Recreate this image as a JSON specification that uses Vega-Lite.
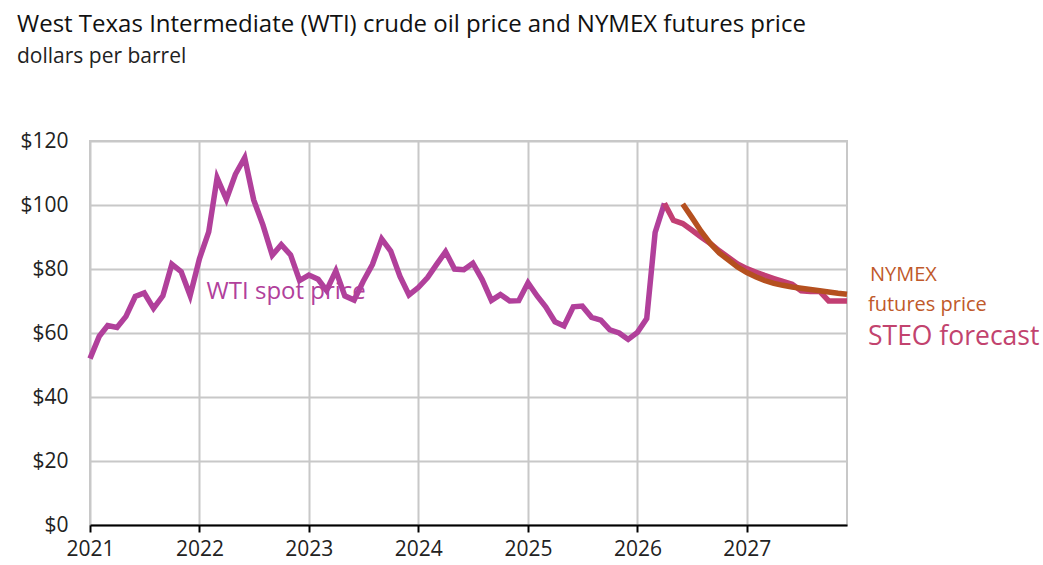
{
  "$schema": "https://vega.github.io/schema/vega-lite/v6.json",
  "width": 757,
  "height": 384,
  "autosize": {"type": "none"},
  "padding": {"left": 90, "top": 141, "right": 196, "bottom": 40},
  "background": "white",
  "title": {
    "text": "West Texas Intermediate (WTI) crude oil price and NYMEX futures price",
    "subtitle": "dollars per barrel",
    "anchor": "start",
    "frame": "group",
    "dx": -73,
    "offset": 63,
    "font": "Open Sans",
    "fontSize": 24,
    "fontWeight": "normal",
    "color": "#111111",
    "subtitleFont": "Open Sans",
    "subtitleFontSize": 21,
    "subtitleColor": "#222222",
    "subtitlePadding": 9
  },
  "config": {
    "view": {"stroke": "#c8c8c8", "strokeWidth": 2},
    "axis": {
      "labelFont": "Open Sans",
      "labelFontSize": 21,
      "labelColor": "#222222",
      "gridColor": "#c8c8c8",
      "gridWidth": 2,
      "title": null
    }
  },
  "datasets": {
    "prices": [
      {"date": "2021-01-01", "price": 52.0, "series": "WTI"},
      {"date": "2021-02-01", "price": 59.0, "series": "WTI"},
      {"date": "2021-03-01", "price": 62.3, "series": "WTI"},
      {"date": "2021-04-01", "price": 61.7, "series": "WTI"},
      {"date": "2021-05-01", "price": 65.2, "series": "WTI"},
      {"date": "2021-06-01", "price": 71.4, "series": "WTI"},
      {"date": "2021-07-01", "price": 72.5, "series": "WTI"},
      {"date": "2021-08-01", "price": 67.7, "series": "WTI"},
      {"date": "2021-09-01", "price": 71.6, "series": "WTI"},
      {"date": "2021-10-01", "price": 81.5, "series": "WTI"},
      {"date": "2021-11-01", "price": 79.2, "series": "WTI"},
      {"date": "2021-12-01", "price": 71.7, "series": "WTI"},
      {"date": "2022-01-01", "price": 83.2, "series": "WTI"},
      {"date": "2022-02-01", "price": 91.6, "series": "WTI"},
      {"date": "2022-03-01", "price": 108.5, "series": "WTI"},
      {"date": "2022-04-01", "price": 101.8, "series": "WTI"},
      {"date": "2022-05-01", "price": 109.6, "series": "WTI"},
      {"date": "2022-06-01", "price": 114.8, "series": "WTI"},
      {"date": "2022-07-01", "price": 101.6, "series": "WTI"},
      {"date": "2022-08-01", "price": 93.7, "series": "WTI"},
      {"date": "2022-09-01", "price": 84.3, "series": "WTI"},
      {"date": "2022-10-01", "price": 87.6, "series": "WTI"},
      {"date": "2022-11-01", "price": 84.4, "series": "WTI"},
      {"date": "2022-12-01", "price": 76.4, "series": "WTI"},
      {"date": "2023-01-01", "price": 78.1, "series": "WTI"},
      {"date": "2023-02-01", "price": 76.8, "series": "WTI"},
      {"date": "2023-03-01", "price": 73.3, "series": "WTI"},
      {"date": "2023-04-01", "price": 79.4, "series": "WTI"},
      {"date": "2023-05-01", "price": 71.6, "series": "WTI"},
      {"date": "2023-06-01", "price": 70.3, "series": "WTI"},
      {"date": "2023-07-01", "price": 76.1, "series": "WTI"},
      {"date": "2023-08-01", "price": 81.4, "series": "WTI"},
      {"date": "2023-09-01", "price": 89.4, "series": "WTI"},
      {"date": "2023-10-01", "price": 85.6, "series": "WTI"},
      {"date": "2023-11-01", "price": 77.7, "series": "WTI"},
      {"date": "2023-12-01", "price": 71.9, "series": "WTI"},
      {"date": "2024-01-01", "price": 74.2, "series": "WTI"},
      {"date": "2024-02-01", "price": 77.3, "series": "WTI"},
      {"date": "2024-03-01", "price": 81.3, "series": "WTI"},
      {"date": "2024-04-01", "price": 85.4, "series": "WTI"},
      {"date": "2024-05-01", "price": 80.0, "series": "WTI"},
      {"date": "2024-06-01", "price": 79.8, "series": "WTI"},
      {"date": "2024-07-01", "price": 81.8, "series": "WTI"},
      {"date": "2024-08-01", "price": 76.7, "series": "WTI"},
      {"date": "2024-09-01", "price": 70.2, "series": "WTI"},
      {"date": "2024-10-01", "price": 72.0, "series": "WTI"},
      {"date": "2024-11-01", "price": 70.0, "series": "WTI"},
      {"date": "2024-12-01", "price": 70.1, "series": "WTI"},
      {"date": "2025-01-01", "price": 75.7, "series": "WTI"},
      {"date": "2025-02-01", "price": 71.5, "series": "WTI"},
      {"date": "2025-03-01", "price": 68.2, "series": "WTI"},
      {"date": "2025-04-01", "price": 63.5, "series": "WTI"},
      {"date": "2025-05-01", "price": 62.2, "series": "WTI"},
      {"date": "2025-06-01", "price": 68.2, "series": "WTI"},
      {"date": "2025-07-01", "price": 68.4, "series": "WTI"},
      {"date": "2025-08-01", "price": 64.9, "series": "WTI"},
      {"date": "2025-09-01", "price": 64.0, "series": "WTI"},
      {"date": "2025-10-01", "price": 61.0, "series": "WTI"},
      {"date": "2025-11-01", "price": 60.0, "series": "WTI"},
      {"date": "2025-12-01", "price": 58.0, "series": "WTI"},
      {"date": "2026-01-01", "price": 60.2, "series": "WTI"},
      {"date": "2026-02-01", "price": 64.5, "series": "WTI"},
      {"date": "2026-03-01", "price": 91.4, "series": "WTI"},
      {"date": "2026-04-01", "price": 100.5, "series": "WTI"},
      {"date": "2026-04-01", "price": 100.5, "series": "STEO"},
      {"date": "2026-05-01", "price": 95.2, "series": "STEO"},
      {"date": "2026-06-01", "price": 94.2, "series": "STEO"},
      {"date": "2026-07-01", "price": 92.2, "series": "STEO"},
      {"date": "2026-08-01", "price": 90.0, "series": "STEO"},
      {"date": "2026-09-01", "price": 88.0, "series": "STEO"},
      {"date": "2026-10-01", "price": 85.7, "series": "STEO"},
      {"date": "2026-11-01", "price": 83.6, "series": "STEO"},
      {"date": "2026-12-01", "price": 81.6, "series": "STEO"},
      {"date": "2027-01-01", "price": 80.1, "series": "STEO"},
      {"date": "2027-02-01", "price": 79.0, "series": "STEO"},
      {"date": "2027-03-01", "price": 78.0, "series": "STEO"},
      {"date": "2027-04-01", "price": 77.0, "series": "STEO"},
      {"date": "2027-05-01", "price": 76.1, "series": "STEO"},
      {"date": "2027-06-01", "price": 75.2, "series": "STEO"},
      {"date": "2027-07-01", "price": 73.2, "series": "STEO"},
      {"date": "2027-08-01", "price": 73.0, "series": "STEO"},
      {"date": "2027-09-01", "price": 73.0, "series": "STEO"},
      {"date": "2027-10-01", "price": 70.0, "series": "STEO"},
      {"date": "2027-11-01", "price": 70.0, "series": "STEO"},
      {"date": "2027-12-01", "price": 70.0, "series": "STEO"},
      {"date": "2026-06-01", "price": 100.3, "series": "NYMEX"},
      {"date": "2026-07-01", "price": 96.2, "series": "NYMEX"},
      {"date": "2026-08-01", "price": 91.8, "series": "NYMEX"},
      {"date": "2026-09-01", "price": 88.0, "series": "NYMEX"},
      {"date": "2026-10-01", "price": 85.0, "series": "NYMEX"},
      {"date": "2026-11-01", "price": 82.8, "series": "NYMEX"},
      {"date": "2026-12-01", "price": 80.6, "series": "NYMEX"},
      {"date": "2027-01-01", "price": 78.9, "series": "NYMEX"},
      {"date": "2027-02-01", "price": 77.5, "series": "NYMEX"},
      {"date": "2027-03-01", "price": 76.4, "series": "NYMEX"},
      {"date": "2027-04-01", "price": 75.5, "series": "NYMEX"},
      {"date": "2027-05-01", "price": 74.9, "series": "NYMEX"},
      {"date": "2027-06-01", "price": 74.4, "series": "NYMEX"},
      {"date": "2027-07-01", "price": 74.0, "series": "NYMEX"},
      {"date": "2027-08-01", "price": 73.6, "series": "NYMEX"},
      {"date": "2027-09-01", "price": 73.2, "series": "NYMEX"},
      {"date": "2027-10-01", "price": 72.8, "series": "NYMEX"},
      {"date": "2027-11-01", "price": 72.4, "series": "NYMEX"},
      {"date": "2027-12-01", "price": 72.1, "series": "NYMEX"}
    ],
    "labels": [
      {"label": "WTI spot price", "date": "2022-01-25", "price": 72.7},
      {"label": "NYMEX", "date": "2027-12-01", "price": 78.0},
      {"label": "futures price", "date": "2027-12-01", "price": 68.6},
      {"label": "STEO forecast", "date": "2027-12-01", "price": 58.6}
    ]
  },
  "layer": [
    {
      "data": {"name": "labels"},
      "transform": [{"filter": "datum.label === 'WTI spot price'"}],
      "mark": {"type": "text", "align": "left", "baseline": "middle", "font": "Open Sans", "fontSize": 24, "color": "#b1409b"},
      "encoding": {
        "x": {
          "field": "date",
          "type": "temporal",
          "scale": {"type": "utc", "domain": ["2021-01-01", "2027-12-01"], "nice": false},
          "axis": {
            "format": "%Y",
            "tickCount": {"interval": "year", "step": 1},
            "labelFlush": false,
            "domainColor": "#000000",
            "domainWidth": 2,
            "tickColor": "#000000",
            "tickWidth": 2,
            "tickSize": 7,
            "labelPadding": 6
          }
        },
        "y": {
          "field": "price",
          "type": "quantitative",
          "scale": {"domain": [0, 120], "nice": false},
          "axis": {
            "values": [0, 20, 40, 60, 80, 100, 120],
            "format": "$.0f",
            "domain": false,
            "ticks": false,
            "labelPadding": 22
          }
        },
        "text": {"field": "label"}
      }
    },
    {
      "data": {"name": "prices"},
      "mark": {"type": "line", "strokeWidth": 5.5, "strokeJoin": "miter", "strokeCap": "butt"},
      "encoding": {
        "x": {"field": "date", "type": "temporal"},
        "y": {"field": "price", "type": "quantitative"},
        "color": {
          "field": "series",
          "type": "nominal",
          "scale": {"domain": ["WTI", "STEO", "NYMEX"], "range": ["#b1409b", "#c23f73", "#b5501f"]},
          "legend": null
        },
        "order": {"field": "date", "type": "temporal"}
      }
    },
    {
      "data": {"name": "labels"},
      "transform": [{"filter": "datum.label === 'NYMEX'"}],
      "mark": {"type": "text", "align": "left", "baseline": "middle", "dx": 23, "font": "Open Sans", "fontSize": 20, "color": "#c0592b"},
      "encoding": {
        "x": {"field": "date", "type": "temporal"},
        "y": {"field": "price", "type": "quantitative"},
        "text": {"field": "label"}
      }
    },
    {
      "data": {"name": "labels"},
      "transform": [{"filter": "datum.label === 'futures price'"}],
      "mark": {"type": "text", "align": "left", "baseline": "middle", "dx": 21, "font": "Open Sans", "fontSize": 20, "color": "#c0592b"},
      "encoding": {
        "x": {"field": "date", "type": "temporal"},
        "y": {"field": "price", "type": "quantitative"},
        "text": {"field": "label"}
      }
    },
    {
      "data": {"name": "labels"},
      "transform": [{"filter": "datum.label === 'STEO forecast'"}],
      "mark": {"type": "text", "align": "left", "baseline": "middle", "dx": 21, "font": "Open Sans", "fontSize": 26.5, "color": "#c2436e"},
      "encoding": {
        "x": {"field": "date", "type": "temporal"},
        "y": {"field": "price", "type": "quantitative"},
        "text": {"field": "label"}
      }
    }
  ]
}
